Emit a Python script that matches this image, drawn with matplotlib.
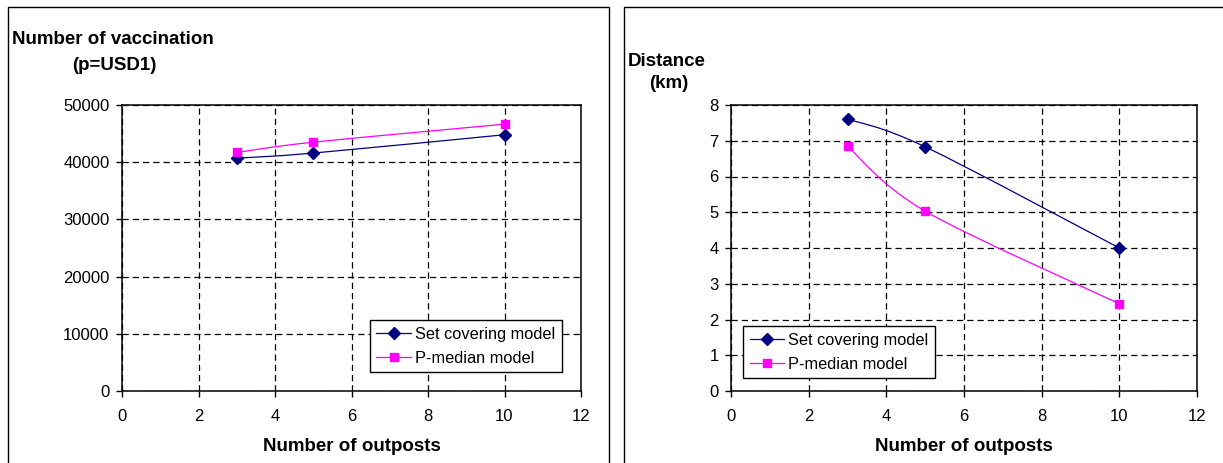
import matplotlib
matplotlib.use("Agg")
import matplotlib.pyplot as plt
import numpy as np
from matplotlib.path import Path
from matplotlib.patches import PathPatch, Rectangle
from matplotlib.lines import Line2D

plt.rcParams['font.family'] = ['Liberation Sans', 'DejaVu Sans']

# data
outposts = [3, 5, 10]
vacc_set_covering = [40700, 41600, 44800]
vacc_p_median = [41700, 43500, 46650]
dist_set_covering = [7.61, 6.83, 4.0]
dist_p_median = [6.84, 5.03, 2.44]

NAVY = '#000080'
MAGENTA = '#FF00FF'


def smooth_path(x, y):
    # Excel-style smoothed line: cubic bezier segments through the points
    pts = np.column_stack([x, y]).astype(float)
    ext = np.vstack([pts[0], pts, pts[-1]])
    verts = [pts[0]]
    codes = [Path.MOVETO]
    for i in range(len(pts) - 1):
        p0, p1, p2, p3 = ext[i], ext[i + 1], ext[i + 2], ext[i + 3]
        c1 = p1 + (p2 - p0) / 6.0
        c2 = p2 - (p3 - p1) / 6.0
        verts += [c1, c2, p2]
        codes += [Path.CURVE4] * 3
    return Path(verts, codes)


def draw_series(ax, x, y, color, marker, ms):
    ax.add_patch(PathPatch(smooth_path(x, y), facecolor='none',
                           edgecolor=color, linewidth=0.9, zorder=3))
    ax.plot(x, y, linestyle='none', marker=marker, color=color,
            markersize=ms, zorder=4)


def style_axes(ax, ymax, ystep):
    ax.set_xlim(0, 12)
    ax.set_ylim(0, ymax)
    ax.set_xticks(np.arange(0, 13, 2))
    ax.set_yticks(np.arange(0, ymax + ystep, ystep))
    ax.grid(True, color='black', linestyle=(0, (5, 3.2)), linewidth=0.9)
    ax.set_axisbelow(True)
    for sp in ax.spines.values():
        sp.set_linewidth(1.1)
    ax.tick_params(axis='x', direction='out', length=4, width=1, labelsize=12, pad=9)
    ax.tick_params(axis='y', direction='out', length=4, width=1, labelsize=12, pad=5)
    ax.set_xlabel('Number of outposts', fontsize=13.5, fontweight='bold', labelpad=10)


def add_legend(ax, anchor):
    handles = [
        Line2D([], [], color=NAVY, marker='D', markersize=6, linewidth=0.9),
        Line2D([], [], color=MAGENTA, marker='s', markersize=6, linewidth=0.9),
    ]
    leg = ax.legend(handles, ['Set covering model', 'P-median model'],
                    loc='upper left', bbox_to_anchor=anchor, fontsize=11.8,
                    fancybox=False, framealpha=1, edgecolor='black',
                    handlelength=2.1, handletextpad=0.25, borderpad=0.4,
                    labelspacing=0.55, borderaxespad=0)
    leg.get_frame().set_linewidth(1.0)


fig = plt.figure(figsize=(12.23, 4.63), dpi=100)

# panel frames
fig.add_artist(Rectangle((8 / 1223, -0.05), 601 / 1223, 1.05 - 7 / 463,
                         transform=fig.transFigure, fill=False,
                         edgecolor='black', linewidth=1))
fig.add_artist(Rectangle((624 / 1223, -0.05), 0.6, 1.05 - 7 / 463,
                         transform=fig.transFigure, fill=False,
                         edgecolor='black', linewidth=1))

# left: vaccinations
ax1 = fig.add_axes([122 / 1223, 1 - 391 / 463, 459 / 1223, 286 / 463])
style_axes(ax1, 50000, 10000)
draw_series(ax1, outposts, vacc_set_covering, NAVY, 'D', 6)
draw_series(ax1, outposts, vacc_p_median, MAGENTA, 's', 6)
add_legend(ax1, (0.54, 0.248))
fig.text(113 / 1223, 1 - 39 / 463, 'Number of vaccination', ha='center',
         va='center', fontsize=13.5, fontweight='bold')
fig.text(114 / 1223, 1 - 65 / 463, '(p=USD1)', ha='center', va='center',
         fontsize=13.5, fontweight='bold')

# right: distance
ax2 = fig.add_axes([731 / 1223, 1 - 391 / 463, 466 / 1223, 286 / 463])
style_axes(ax2, 8, 1)
draw_series(ax2, outposts, dist_set_covering, NAVY, 'D', 6)
draw_series(ax2, outposts, dist_p_median, MAGENTA, 's', 6)
add_legend(ax2, (0.026, 0.227))
fig.text(667 / 1223, 1 - 61 / 463, 'Distance', ha='center', va='center',
         fontsize=13.5, fontweight='bold')
fig.text(669 / 1223, 1 - 84 / 463, '(km)', ha='center', va='center',
         fontsize=13.5, fontweight='bold')

fig.savefig('out.png', dpi=100)
